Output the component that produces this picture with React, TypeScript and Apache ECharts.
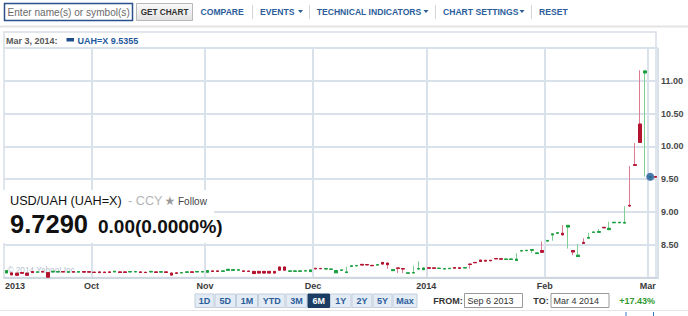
import React, { useEffect, useRef } from "react";
import * as echarts from "echarts";

// ---------- data ----------
const sepDays = [6, 9, 10, 11, 12, 13, 16, 17, 18, 19, 20, 23, 24, 25, 26, 27, 30];
const octDays = [1, 2, 3, 4, 7, 8, 9, 10, 11, 15, 16, 17, 18, 21, 22, 23, 24, 25, 28, 29, 30, 31];
const novDays = [1, 4, 5, 6, 7, 8, 11, 12, 13, 14, 15, 18, 19, 20, 21, 22, 25, 26, 27, 28, 29];
const decDays = [2, 3, 4, 5, 6, 9, 10, 11, 12, 13, 16, 17, 18, 19, 20, 23, 24, 25, 26, 27, 30, 31];
const janDays = [1, 2, 3, 6, 7, 8, 9, 10, 13, 14, 15, 16, 17, 20, 21, 22, 23, 24, 27, 28, 29, 30, 31];
const febDays = [3, 4, 5, 6, 7, 10, 11, 12, 13, 14, 17, 18, 19, 20, 21, 24, 25, 26, 27, 28];
const marDays = [3, 4];

// [open, close, low, high]
const sepOHLC = [
  [8.07, 8.105, 8.065, 8.11], [8.07, 8.04, 8.038, 8.072], [8.065, 8.035, 8.033, 8.066],
  [8.075, 8.065, 8.064, 8.076], [8.065, 8.035, 8.034, 8.066], [8.09, 8.075, 8.074, 8.091],
  [8.08, 8.086, 8.079, 8.087], [8.09, 8.084, 8.083, 8.091], [8.075, 8.005, 8.003, 8.076],
  [8.085, 8.095, 8.084, 8.096], [8.085, 8.09, 8.084, 8.091], [8.09, 8.085, 8.084, 8.091],
  [8.08, 8.088, 8.079, 8.089], [8.09, 8.082, 8.081, 8.091], [8.082, 8.09, 8.081, 8.091],
  [8.09, 8.082, 8.081, 8.091], [8.088, 8.082, 8.081, 8.089],
];
const octOHLC = [
  [8.08, 8.078, 8.077, 8.081], [8.085, 8.075, 8.074, 8.086], [8.082, 8.075, 8.074, 8.083],
  [8.085, 8.078, 8.077, 8.086], [8.085, 8.095, 8.084, 8.096], [8.085, 8.078, 8.077, 8.086],
  [8.085, 8.078, 8.077, 8.086], [8.085, 8.09, 8.084, 8.091], [8.086, 8.09, 8.085, 8.091],
  [8.085, 8.078, 8.077, 8.086], [8.08, 8.075, 8.074, 8.081], [8.085, 8.093, 8.084, 8.094],
  [8.085, 8.078, 8.077, 8.086], [8.082, 8.088, 8.081, 8.089], [8.085, 8.078, 8.077, 8.086],
  [8.068, 8.037, 8.036, 8.069], [8.07, 8.065, 8.064, 8.071], [8.07, 8.075, 8.069, 8.076],
  [8.08, 8.085, 8.079, 8.086], [8.085, 8.08, 8.079, 8.086], [8.085, 8.092, 8.084, 8.093],
  [8.084, 8.09, 8.083, 8.091],
];
const novOHLC = [
  [8.08, 8.105, 8.079, 8.106], [8.1, 8.093, 8.092, 8.101], [8.1, 8.093, 8.092, 8.101],
  [8.095, 8.1, 8.094, 8.101], [8.11, 8.125, 8.109, 8.126], [8.11, 8.12, 8.109, 8.121],
  [8.112, 8.118, 8.111, 8.119], [8.1, 8.094, 8.093, 8.101], [8.098, 8.093, 8.092, 8.099],
  [8.093, 8.06, 8.059, 8.094], [8.093, 8.068, 8.067, 8.094], [8.093, 8.068, 8.067, 8.094],
  [8.093, 8.068, 8.067, 8.094], [8.093, 8.068, 8.067, 8.094], [8.16, 8.112, 8.111, 8.161],
  [8.16, 8.112, 8.111, 8.161], [8.095, 8.1, 8.094, 8.101], [8.095, 8.1, 8.094, 8.101],
  [8.095, 8.1, 8.094, 8.101], [8.1, 8.102, 8.099, 8.103], [8.09, 8.115, 8.089, 8.116],
];
const decOHLC = [
  [8.14, 8.132, 8.131, 8.141], [8.138, 8.134, 8.133, 8.139], [8.13, 8.134, 8.129, 8.135],
  [8.125, 8.128, 8.124, 8.129], [8.072, 8.105, 8.071, 8.106], [8.11, 8.115, 8.109, 8.116],
  [8.075, 8.085, 8.074, 8.165], [8.17, 8.178, 8.169, 8.179], [8.178, 8.182, 8.177, 8.183],
  [8.2, 8.19, 8.189, 8.201], [8.198, 8.192, 8.191, 8.199], [8.185, 8.18, 8.179, 8.186],
  [8.19, 8.195, 8.189, 8.196], [8.23, 8.205, 8.204, 8.231], [8.22, 8.195, 8.134, 8.221],
  [8.105, 8.12, 8.104, 8.121], [8.145, 8.14, 8.07, 8.146], [8.135, 8.13, 8.068, 8.136],
  [8.065, 8.07, 8.064, 8.071], [8.07, 8.075, 8.068, 8.18], [8.13, 8.135, 8.12, 8.245],
  [8.12, 8.145, 8.119, 8.146],
];
const janOHLC = [
  [8.148, 8.142, 8.141, 8.149], [8.146, 8.14, 8.139, 8.147], [8.138, 8.142, 8.137, 8.143],
  [8.13, 8.135, 8.129, 8.136], [8.135, 8.14, 8.134, 8.141], [8.15, 8.142, 8.141, 8.151],
  [8.148, 8.14, 8.139, 8.149], [8.145, 8.152, 8.144, 8.153], [8.205, 8.198, 8.135, 8.206],
  [8.23, 8.225, 8.224, 8.231], [8.265, 8.245, 8.244, 8.266], [8.262, 8.25, 8.249, 8.263],
  [8.262, 8.255, 8.254, 8.263], [8.29, 8.284, 8.283, 8.291], [8.285, 8.28, 8.279, 8.286],
  [8.276, 8.282, 8.275, 8.283], [8.276, 8.282, 8.275, 8.283], [8.26, 8.28, 8.259, 8.37],
  [8.405, 8.41, 8.404, 8.411], [8.41, 8.415, 8.409, 8.416], [8.415, 8.425, 8.37, 8.426],
  [8.365, 8.375, 8.364, 8.376], [8.41, 8.385, 8.38, 8.55],
];
const febOHLC = [
  [8.555, 8.565, 8.554, 8.566], [8.65, 8.665, 8.56, 8.666], [8.675, 8.682, 8.674, 8.683],
  [8.675, 8.65, 8.649, 8.8], [8.77, 8.795, 8.44, 8.796], [8.41, 8.39, 8.34, 8.411],
  [8.32, 8.34, 8.319, 8.51], [8.535, 8.52, 8.519, 8.6], [8.6, 8.61, 8.599, 8.68],
  [8.688, 8.694, 8.687, 8.695], [8.69, 8.7, 8.689, 8.74], [8.765, 8.758, 8.757, 8.766],
  [8.73, 8.75, 8.729, 8.85], [8.835, 8.842, 8.834, 8.843], [8.835, 8.842, 8.834, 8.843],
  [8.83, 8.84, 8.829, 9.085], [9.1, 9.09, 9.085, 9.7], [9.72, 9.71, 9.7, 10.05],
  [10.34, 10.06, 10.055, 11.16], [11.12, 11.15, 9.54, 11.16],
];
const marOHLC = [
  [9.53, 9.5355, 9.529, 9.536], [9.54, 9.53, 9.529, 9.541],
];

const markerDate = "2014-03-03";
const markerValue = 9.5355;

const tickDates = ["2013-09-06", "2013-10-01", "2013-11-01", "2013-12-02", "2014-01-01", "2014-02-03", "2014-03-03"];
const tickLabels = ["2013", "Oct", "Nov", "Dec", "2014", "Feb", "Mar"];

const yMin = 8.0;
const yMax = 11.5;
const yStep = 0.5;

const toolbarLinks = ["COMPARE", "EVENTS", "TECHNICAL INDICATORS", "CHART SETTINGS", "RESET"];
const rangeLabels = ["1D", "5D", "1M", "YTD", "3M", "6M", "1Y", "2Y", "5Y", "Max"];
const selectedRange = "6M";

const headerDate = "Mar 3, 2014:";
const headerSeries = "UAH=X 9.5355";
const quoteName = "USD/UAH (UAH=X)";
const quoteType = "- CCY";
const quotePrice = "9.7290";
const quoteChange = "0.00(0.0000%)";
const fromDate = "Sep 6 2013";
const toDate = "Mar 4 2014";
const periodChange = "+17.43%";
const copyright = "\u00a9 2014 Yahoo! Inc.";

// ---------- build ----------
const monthDays: [string, number[]][] = [
  ["2013-09", sepDays], ["2013-10", octDays], ["2013-11", novDays], ["2013-12", decDays],
  ["2014-01", janDays], ["2014-02", febDays], ["2014-03", marDays],
];
const dates = monthDays.flatMap(([m, ds]) => ds.map((d) => `${m}-${String(d).padStart(2, "0")}`));
const ohlc = [...sepOHLC, ...octOHLC, ...novOHLC, ...decOHLC, ...janOHLC, ...febOHLC, ...marOHLC];
const bodies = ohlc.map(([o, c]) => [o, c, Math.min(o, c), Math.max(o, c)]);

const FF = "Arial, 'Liberation Sans', Helvetica, sans-serif";
const BLUE = "#2c5d9b";

function txt(text: string, x: number, y: number, font: string, fill: string, align = "left", z = 10) {
  return {
    type: "text", x, y, z, silent: true,
    style: { text, font, fill, textAlign: align, align, textVerticalAlign: "middle", verticalAlign: "middle" },
  };
}

function buildGraphics() {
  const els: any[] = [];
  // toolbar
  els.push({ type: "rect", z: 10, shape: { x: 4.5, y: 3.5, width: 128, height: 17 }, style: { fill: "#fff", stroke: "#2b4f8a", lineWidth: 1.5 } });
  els.push(txt("Enter name(s) or symbol(s)", 7.5, 12.5, `10.1px ${FF}`, "#6a6a6a"));
  els.push({
    type: "rect", z: 10, shape: { x: 136.5, y: 3.5, width: 56, height: 17 },
    style: {
      fill: new echarts.graphic.LinearGradient(0, 0, 0, 1, [{ offset: 0, color: "#fafafa" }, { offset: 1, color: "#e2e2e2" }]),
      stroke: "#b8b8b8", lineWidth: 1,
    },
  });
  els.push(txt("GET CHART", 164.5, 12.5, `bold 8.2px ${FF}`, "#333", "center"));
  const linkX = [200.5, 260, 316.7, 443, 539];
  toolbarLinks.forEach((l, i) => {
    els.push(txt(l, linkX[i], 12, `bold 8.6px ${FF}`, BLUE));
  });
  const carets = [298, 423.5, 519.5];
  carets.forEach((cx) => {
    els.push({ type: "polygon", z: 10, shape: { points: [[cx, 10], [cx + 5, 10], [cx + 2.5, 13]] }, style: { fill: BLUE } });
  });
  [252.5, 309.5, 435.5, 531.5].forEach((sx) => {
    els.push({ type: "line", z: 10, shape: { x1: sx, y1: 5, x2: sx, y2: 19 }, style: { stroke: "#d6d6d6", lineWidth: 1 } });
  });
  els.push({ type: "line", z: 10, shape: { x1: 0, y1: 26.5, x2: 688, y2: 26.5 }, style: { stroke: "#e4e4e4", lineWidth: 2 } });

  // chart frame & header
  els.push({ type: "rect", z: 0, silent: true, shape: { x: 4, y: 32, width: 652, height: 245.5 }, style: { fill: "none", stroke: "#d7dee6", lineWidth: 1.5 } });
  els.push(txt(headerDate, 6, 40.5, `bold 9px ${FF}`, "#585858"));
  els.push({ type: "rect", z: 10, shape: { x: 66.5, y: 38, width: 7.5, height: 3.5 }, style: { fill: "#1f4e8c" } });
  els.push(txt(headerSeries, 77.5, 40.5, `bold 9px ${FF}`, "#1f5a9c"));

  // quote overlay
  els.push({ type: "rect", z: 10, shape: { x: 0, y: 190, width: 214, height: 53 }, style: { fill: "#fff" } });
  els.push(txt(quoteName, 10, 200.5, `12.7px ${FF}`, "#111"));
  els.push(txt(quoteType, 128, 200.5, `12.7px ${FF}`, "#b5b5b5"));
  els.push(txt("\u2605", 164.5, 200.5, `12px 'DejaVu Sans', sans-serif`, "#9a9a9a"));
  els.push(txt("Follow", 178, 201, `10px ${FF}`, "#444"));
  els.push(txt(quotePrice, 10, 223.5, `bold 25.5px ${FF}`, "#111"));
  els.push(txt(quoteChange, 98, 226.5, `bold 19px ${FF}`, "#111"));

  // copyright
  els.push(txt(copyright, 7.5, 270, `8.2px ${FF}`, "#b3bfcd", "left", 1));

  // range buttons
  const edges = [194.5, 214.5, 236, 258, 285.5, 307.5, 330, 351.5, 372.5, 392.5, 417.5];
  rangeLabels.forEach((lab, i) => {
    const sel = lab === selectedRange;
    const x0 = edges[i], x1 = edges[i + 1];
    els.push({ type: "rect", z: 10, shape: { x: x0 + 0.5, y: 294, width: x1 - x0 - 1, height: 13.5 }, style: { fill: sel ? "#1b3d63" : "#e3ebf4", stroke: sel ? "#1b3d63" : "#c3cfdd", lineWidth: 1 } });
    els.push(txt(lab, (x0 + x1) / 2, 301, `bold 9px ${FF}`, sel ? "#fff" : BLUE, "center"));
  });
  els.push(txt("FROM:", 433.3, 301, `bold 9px ${FF}`, "#333"));
  els.push({ type: "rect", z: 10, shape: { x: 464.5, y: 293.5, width: 58, height: 14 }, style: { fill: "#fff", stroke: "#9a9a9a", lineWidth: 1 } });
  els.push(txt(fromDate, 467.5, 301, `9px ${FF}`, "#333"));
  els.push(txt("TO:", 533.3, 301, `bold 9px ${FF}`, "#333"));
  els.push({ type: "rect", z: 10, shape: { x: 551, y: 293.5, width: 58, height: 14 }, style: { fill: "#fff", stroke: "#9a9a9a", lineWidth: 1 } });
  els.push(txt(toDate, 553.5, 301, `9px ${FF}`, "#333"));
  els.push(txt(periodChange, 619.3, 301, `bold 9px ${FF}`, "#2f9a2f"));
  els.push({ type: "line", z: 10, shape: { x1: 0, y1: 310.5, x2: 688, y2: 310.5 }, style: { stroke: "#e6e6e6", lineWidth: 1 } });
  [626, 653.5].forEach((bx) => {
    els.push({ type: "line", z: 10, shape: { x1: bx, y1: 312, x2: bx, y2: 316 }, style: { stroke: "#3a78c0", lineWidth: 1 } });
  });
  return els;
}

export default function App() {
  const ref = useRef<HTMLDivElement>(null);
  useEffect(() => {
    document.body.style.margin = "0";
    if (!ref.current) return;
    const chart = echarts.init(ref.current, undefined, { renderer: "svg" });
    const GRID = "#d9e1ea";
    chart.setOption({
      animation: false,
      backgroundColor: "#fff",
      grid: { left: 4, right: 30, top: 48, bottom: 38.5, containLabel: false },
      xAxis: {
        type: "category",
        data: dates,
        boundaryGap: true,
        axisLine: { show: true, lineStyle: { color: "#cfd7e0", width: 2 } },
        axisTick: { show: false },
        axisLabel: {
          interval: (_i: number, v: string) => tickDates.includes(v),
          formatter: (v: string, idx: number) => {
            const k = tickDates.indexOf(v);
            if (k < 0) return "";
            return idx === 0 ? `{first|${tickLabels[k]}}` : tickLabels[k];
          },
          fontSize: 9,
          fontWeight: "bold",
          fontFamily: FF,
          color: "#3a3a3a",
          margin: 4,
          padding: [0, 5, 0, 0],
          rich: {
            first: { fontSize: 9, fontWeight: "bold", fontFamily: FF, color: "#3a3a3a", padding: [0, 0, 0, 22] },
          },
        },
        splitLine: {
          show: true,
          interval: (_i: number, v: string) => tickDates.indexOf(v) > 0,
          lineStyle: { color: GRID, width: 2 },
        },
      },
      yAxis: {
        type: "value",
        position: "right",
        min: yMin,
        max: yMax,
        interval: yStep,
        axisLine: { show: false },
        axisTick: { show: false },
        axisLabel: {
          formatter: (v: number) => (v <= yMin || v >= yMax ? "" : v.toFixed(2)),
          fontSize: 9,
          fontWeight: "bold",
          fontFamily: FF,
          color: "#484848",
          margin: 3,
        },
        splitLine: { show: true, lineStyle: { color: GRID, width: 2 } },
      },
      series: [
        {
          name: "wick",
          type: "candlestick",
          data: ohlc,
          barWidth: 3,
          z: 2,
          itemStyle: { color: "#7fcf93", color0: "#de7d92", borderColor: "#7fcf93", borderColor0: "#de7d92", borderWidth: 1 },
        },
        {
          name: "body",
          type: "candlestick",
          data: bodies,
          barWidth: 3,
          z: 3,
          itemStyle: { color: "#1b9e3e", color0: "#b3132e", borderColor: "#1b9e3e", borderColor0: "#b3132e", borderWidth: 1 },
        },
        {
          name: "UAH=X",
          type: "scatter",
          data: [[markerDate, markerValue]],
          symbol: "circle",
          symbolSize: 8,
          z: 5,
          itemStyle: { color: "#1d5a98" },
        },
      ],
      graphic: { elements: buildGraphics() },
    });
    return () => chart.dispose();
  }, []);
  return (
    <div
      ref={ref}
      style={{ position: "absolute", left: 0, top: 0, width: 688, height: 316, background: "#fff" }}
    />
  );
}
